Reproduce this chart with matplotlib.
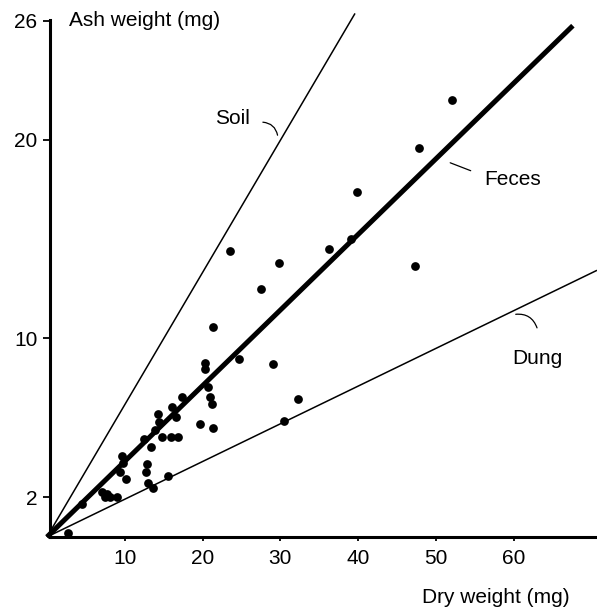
#!/usr/bin/env python
"""
ash weight against dry weight, with soil / feces / dung reference lines
"""
import numpy as np
import matplotlib
matplotlib.use("Agg")
import matplotlib.pyplot as mp

mp.rcParams['font.family'] = ['Liberation Sans', 'DejaVu Sans']

# dry weight (mg), ash weight (mg) of the samples
dry = np.array([52.1, 47.8, 39.8, 39.1, 36.2, 23.5, 29.8, 47.3, 27.5, 21.3,
                20.3, 20.3, 24.7, 29.0, 32.3, 30.5, 20.7, 20.95, 21.2, 17.35,
                16.1, 14.3, 14.4, 19.7, 21.3, 13.9, 12.5, 14.8, 15.9, 16.8,
                16.6, 13.4, 9.6, 9.8, 9.4, 10.2, 12.85, 12.7, 15.55, 13.0,
                13.6, 7.1, 7.45, 8.1, 9.0, 4.5, 2.7, 7.7])
ash = np.array([22.0, 19.6, 17.4, 15.0, 14.5, 14.4, 13.8, 13.65, 12.5, 10.6,
                8.77, 8.46, 8.97, 8.72, 6.95, 5.84, 7.56, 7.05, 6.70, 7.05,
                6.55, 6.20, 5.79, 5.69, 5.49, 5.39, 4.94, 5.04, 5.04, 5.04,
                6.05, 4.53, 4.08, 3.73, 3.27, 2.92, 3.68, 3.27, 3.07, 2.72,
                2.47, 2.27, 2.02, 2.02, 2.02, 1.66, 0.2, 2.17])

# ash / dry ratio of each reference line, and where it stops (dry weight)
ref_names = ["Soil", "Feces", "Dung"]
ref_slope = [0.666, 0.381, 0.190]
ref_xend = [39.6, 67.6, 70.7]

yticks = [2, 10, 20, 26]
xticks = [10, 20, 30, 40, 50, 60]

fs = 15

fig = mp.figure(figsize=(5.97, 6.10), dpi=100)
ax = fig.add_axes([0.0838, 0.1197, 0.9162, 0.8787])

for name, k, xe in zip(ref_names, ref_slope, ref_xend):
    xs = np.array([0.0, xe])
    lw = 3.6 if name == "Feces" else 1.1
    ax.plot(xs, k*xs, color="black", lw=lw, solid_capstyle="butt", clip_on=False)

ax.plot(dry, ash, "o", color="black", ms=6.3, mew=0)

ax.set_xlim(0.4, 70.7)
ax.set_ylim(0, 27)

for s in ["top", "right"]:
    ax.spines[s].set_visible(False)
ax.spines["left"].set_linewidth(2.2)
ax.spines["bottom"].set_linewidth(2.2)
ax.spines["left"].set_bounds(0, 26.05)

ax.set_yticks(yticks)
ax.set_yticklabels([str(t) for t in yticks])
ax.set_xticks(xticks)
ax.set_xticklabels([str(t) for t in xticks])
ax.tick_params(axis="y", direction="out", length=5, width=1.3, pad=4, labelsize=fs)
ax.tick_params(axis="x", direction="out", length=3, width=1.3, pad=6, labelsize=fs)

ax.text(2.9, 26.0, "Ash weight (mg)", fontsize=fs, ha="left", va="center")
ax.text(0.95, -0.113, "Dry weight (mg)", fontsize=fs, ha="right", va="center",
        transform=ax.transAxes)

# line labels with small leaders
ax.text(23.8, 21.1, "Soil", fontsize=fs, ha="center", va="center")
ax.annotate("", xy=(29.7, 20.1), xytext=(27.4, 20.9),
            arrowprops=dict(arrowstyle="-", lw=0.9, connectionstyle="arc3,rad=-0.45"))
ax.text(56.2, 18.0, "Feces", fontsize=fs, ha="left", va="center")
ax.annotate("", xy=(54.8, 18.4), xytext=(51.5, 18.9),
            arrowprops=dict(arrowstyle="-", lw=0.9))
ax.text(63.0, 9.0, "Dung", fontsize=fs, ha="center", va="center")
ax.annotate("", xy=(63.1, 10.4), xytext=(59.9, 11.2),
            arrowprops=dict(arrowstyle="-", lw=0.9, connectionstyle="arc3,rad=-0.45"))

fig.savefig("out.png", dpi=100)
